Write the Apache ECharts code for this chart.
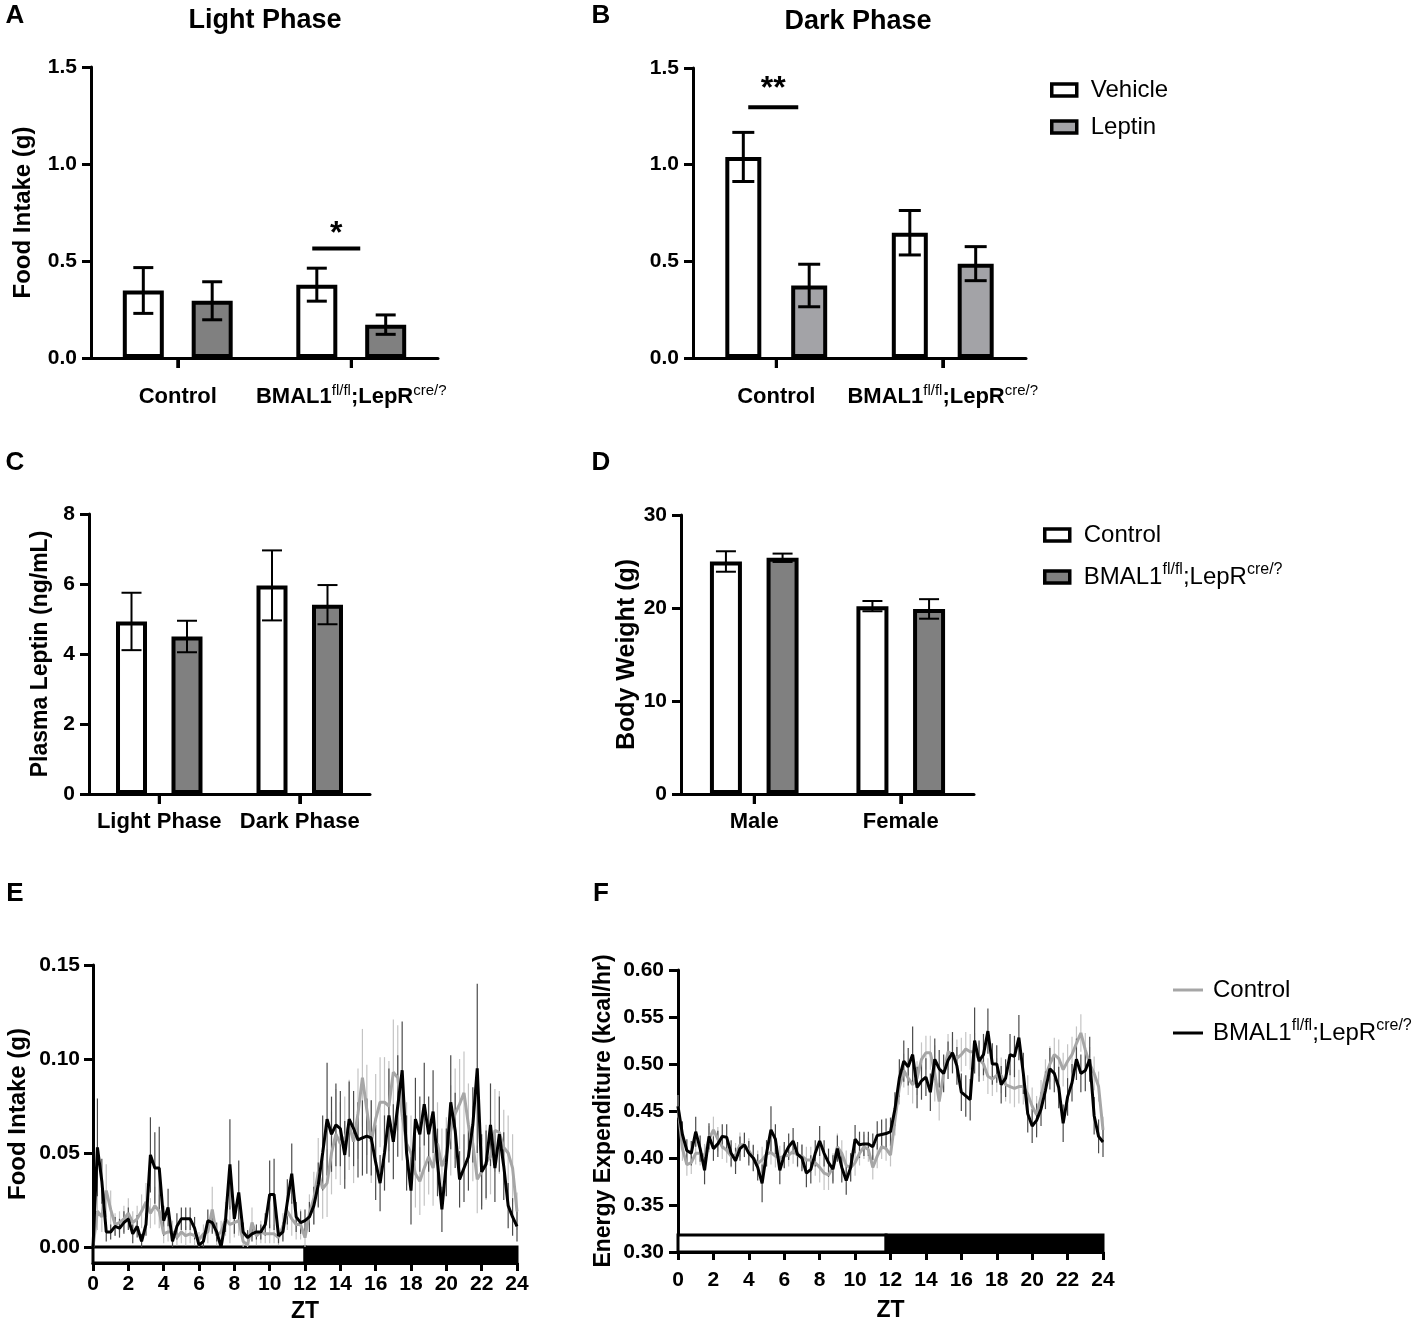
<!DOCTYPE html>
<html>
<head>
<meta charset="utf-8">
<script src="https://cdn.jsdelivr.net/npm/echarts@6/dist/echarts.min.js"></script>
<style>
html, body { margin: 0; padding: 0; background: #fff; }
#chart { width: 1417px; height: 1328px; }
</style>
</head>
<body>
<div id="chart"></div>
<script>
// ---- data ----
const KO = 'BMAL1fl/fl;LepRcre/?';
const genotypes = ['Control', KO];
const phases = ['Light Phase', 'Dark Phase'];
const sexes = ['Male', 'Female'];

// A: light phase food intake (g)
const lightVehicle = [0.348, 0.378];
const lightVehicleSem = [0.118, 0.085];
const lightLeptin = [0.295, 0.172];
const lightLeptinSem = [0.098, 0.05];
const sigA = [[1, 0.565]];
const sigAText = ['*'];

// B: dark phase food intake (g)
const darkVehicle = [1.04, 0.648];
const darkVehicleSem = [0.127, 0.115];
const darkLeptin = [0.375, 0.488];
const darkLeptinSem = [0.11, 0.088];
const sigB = [[0, 1.297]];
const sigBText = ['**'];

// C: plasma leptin (ng/mL)
const leptinControl = [4.93, 5.96];
const leptinControlSem = [0.82, 1.0];
const leptinKO = [4.5, 5.41];
const leptinKOSem = [0.45, 0.56];

// D: body weight (g)
const weightControl = [25.0, 20.2];
const weightControlSem = [1.1, 0.55];
const weightKO = [25.4, 19.9];
const weightKOSem = [0.45, 1.05];

// E / F: 15 min bins over ZT 0-24
const zt = Array.from({ length: 97 }, (_, i) => i * 0.25);

const foodControl = [
  0, 0.019, 0.016, 0.03, 0.02, 0.012, 0.013, 0.015, 0.018, 0.013, 0.015, 0.019, 0.024, 0.018, 0.022, 0.019,
  0.007, 0.008, 0.008, 0.005, 0.008, 0.006, 0.007, 0.006, 0.004, 0.007, 0.008, 0.02, 0.006, 0.008, 0.015, 0.012,
  0.013, 0.014, 0.003, 0.001, 0.013, 0.006, 0.008, 0.007, 0.007, 0.007, 0.005, 0.011, 0.019, 0.015, 0.012, 0.012, 0.005,
  0.018, 0.026, 0.04, 0.031, 0.034, 0.05, 0.06, 0.055, 0.058, 0.065, 0.056, 0.071, 0.09, 0.073, 0.056, 0.068,
  0.077, 0.077, 0.075, 0.093, 0.09, 0.07, 0.055, 0.05, 0.039, 0.035, 0.042, 0.048, 0.042, 0.055, 0.043, 0.049,
  0.062, 0.071, 0.076, 0.082, 0.065, 0.055, 0.036, 0.04, 0.045, 0.048, 0.062, 0.061, 0.053, 0.05, 0.042, 0.019
];
const foodControlSem = [
  0, 0.01, 0.008, 0.014, 0.01, 0.006, 0.006, 0.007, 0.008, 0.006, 0.007, 0.009, 0.01, 0.008, 0.01, 0.009,
  0.005, 0.005, 0.006, 0.004, 0.006, 0.005, 0.005, 0.005, 0.004, 0.005, 0.006, 0.012, 0.005, 0.006, 0.009, 0.01,
  0.008, 0.008, 0.003, 0.002, 0.008, 0.005, 0.006, 0.005, 0.005, 0.005, 0.004, 0.007, 0.01, 0.009, 0.008, 0.008, 0.005,
  0.01, 0.014, 0.018, 0.016, 0.018, 0.022, 0.024, 0.022, 0.022, 0.024, 0.022, 0.024, 0.026, 0.024, 0.022, 0.024,
  0.024, 0.024, 0.024, 0.028, 0.028, 0.024, 0.022, 0.02, 0.018, 0.018, 0.02, 0.02, 0.02, 0.022, 0.02, 0.02,
  0.024, 0.024, 0.024, 0.022, 0.022, 0.02, 0.018, 0.018, 0.02, 0.02, 0.022, 0.022, 0.02, 0.02, 0.018, 0.01
];
const foodKO = [
  0, 0.053, 0.035, 0.008, 0.008, 0.011, 0.01, 0.013, 0.015, 0.007, 0.011, 0.003, 0.012, 0.049, 0.042, 0.042,
  0.014, 0.021, 0.003, 0.011, 0.015, 0.015, 0.015, 0.01, 0.001, 0.003, 0.014, 0.013, 0.008, 0, 0.014, 0.044,
  0.015, 0.029, 0.008, 0.005, 0.007, 0.008, 0.008, 0.012, 0.028, 0.028, 0.006, 0.008, 0.024, 0.039, 0.016, 0.013, 0.014,
  0.016, 0.022, 0.033, 0.05, 0.068, 0.06, 0.065, 0.063, 0.049, 0.068, 0.063, 0.057, 0.058, 0.059, 0.058, 0.045,
  0.034, 0.05, 0.07, 0.056, 0.075, 0.094, 0.05, 0.03, 0.068, 0.06, 0.076, 0.06, 0.072, 0.045, 0.02, 0.045,
  0.077, 0.062, 0.036, 0.042, 0.048, 0.065, 0.095, 0.04, 0.044, 0.065, 0.042, 0.06, 0.043, 0.022, 0.016, 0.011
];
const foodKOSem = [
  0, 0.026, 0.012, 0.005, 0.004, 0.005, 0.005, 0.006, 0.006, 0.005, 0.006, 0.004, 0.006, 0.02, 0.019, 0.022,
  0.008, 0.01, 0.003, 0.007, 0.006, 0.006, 0.006, 0.006, 0.001, 0.003, 0.006, 0.006, 0.005, 0.001, 0.006, 0.024,
  0.008, 0.017, 0.005, 0.004, 0.004, 0.004, 0.004, 0.006, 0.018, 0.019, 0.004, 0.005, 0.012, 0.016, 0.008, 0.006, 0.006,
  0.008, 0.01, 0.012, 0.02, 0.03, 0.02, 0.022, 0.02, 0.018, 0.02, 0.02, 0.02, 0.02, 0.02, 0.02, 0.02,
  0.015, 0.02, 0.025, 0.02, 0.027, 0.026, 0.02, 0.018, 0.022, 0.02, 0.022, 0.02, 0.022, 0.018, 0.012, 0.018,
  0.025, 0.02, 0.015, 0.018, 0.018, 0.02, 0.045, 0.02, 0.018, 0.022, 0.018, 0.02, 0.018, 0.012, 0.01, 0.008
];

const eeControl = [
  0.455, 0.41, 0.393, 0.395, 0.405, 0.405, 0.402, 0.42, 0.43, 0.42, 0.412, 0.408, 0.402, 0.403, 0.414, 0.414,
  0.408, 0.4, 0.394, 0.398, 0.404, 0.406, 0.402, 0.4, 0.402, 0.403, 0.407, 0.403, 0.402, 0.398, 0.398, 0.395,
  0.39, 0.384, 0.382, 0.39, 0.412, 0.405, 0.392, 0.39, 0.395, 0.405, 0.412, 0.409, 0.39, 0.402, 0.412, 0.41, 0.403,
  0.44, 0.475, 0.493, 0.485, 0.478, 0.485, 0.505, 0.512, 0.512, 0.49, 0.46, 0.49, 0.513, 0.51, 0.506, 0.51,
  0.516, 0.513, 0.513, 0.505, 0.5, 0.487, 0.484, 0.488, 0.488, 0.478, 0.476, 0.474, 0.476, 0.476, 0.468, 0.455,
  0.446, 0.465, 0.487, 0.5, 0.51, 0.506, 0.494, 0.503, 0.51, 0.522, 0.533, 0.515, 0.5, 0.49, 0.476, 0.43
];
const eeControlSem = [
  0.012, 0.013, 0.012, 0.012, 0.012, 0.013, 0.013, 0.014, 0.014, 0.013, 0.013, 0.013, 0.012, 0.013, 0.013, 0.012,
  0.013, 0.013, 0.014, 0.014, 0.013, 0.013, 0.012, 0.013, 0.012, 0.012, 0.013, 0.013, 0.013, 0.014, 0.014, 0.014,
  0.016, 0.018, 0.016, 0.015, 0.014, 0.014, 0.016, 0.015, 0.014, 0.013, 0.013, 0.013, 0.013, 0.013, 0.013, 0.013, 0.012,
  0.016, 0.018, 0.018, 0.018, 0.02, 0.018, 0.018, 0.018, 0.018, 0.03, 0.02, 0.018, 0.019, 0.018, 0.02, 0.018,
  0.018, 0.019, 0.02, 0.018, 0.018, 0.019, 0.018, 0.018, 0.019, 0.018, 0.018, 0.02, 0.018, 0.019, 0.02, 0.02,
  0.02, 0.018, 0.018, 0.019, 0.018, 0.02, 0.018, 0.018, 0.019, 0.018, 0.02, 0.018, 0.018, 0.018, 0.016, 0.014
];
const eeKO = [
  0.455, 0.425, 0.408, 0.405, 0.428, 0.41, 0.387, 0.423, 0.41, 0.415, 0.423, 0.422, 0.405, 0.397, 0.41, 0.414,
  0.405, 0.4, 0.39, 0.373, 0.405, 0.43, 0.42, 0.387, 0.403, 0.412, 0.418, 0.404, 0.4, 0.384, 0.388, 0.405,
  0.418, 0.405, 0.395, 0.388, 0.41, 0.39, 0.376, 0.39, 0.42, 0.414, 0.415, 0.415, 0.412, 0.424, 0.425, 0.426, 0.428,
  0.452, 0.485, 0.503, 0.497, 0.51, 0.475, 0.482, 0.486, 0.47, 0.505, 0.495, 0.49, 0.504, 0.512, 0.498, 0.47,
  0.466, 0.462, 0.525, 0.503, 0.51, 0.535, 0.5, 0.5, 0.478, 0.485, 0.51, 0.508, 0.528, 0.49, 0.447, 0.434,
  0.44, 0.452, 0.472, 0.495, 0.49, 0.475, 0.437, 0.465, 0.48, 0.505, 0.49, 0.493, 0.505, 0.445, 0.423, 0.417
];
const eeKOSem = [
  0.012, 0.014, 0.012, 0.013, 0.016, 0.014, 0.015, 0.014, 0.013, 0.014, 0.013, 0.014, 0.014, 0.014, 0.013, 0.013,
  0.013, 0.014, 0.014, 0.02, 0.014, 0.025, 0.016, 0.015, 0.014, 0.014, 0.014, 0.013, 0.014, 0.015, 0.015, 0.014,
  0.016, 0.014, 0.015, 0.015, 0.014, 0.016, 0.015, 0.015, 0.015, 0.014, 0.013, 0.013, 0.014, 0.015, 0.016, 0.016, 0.015,
  0.018, 0.02, 0.022, 0.02, 0.03, 0.022, 0.02, 0.02, 0.02, 0.022, 0.02, 0.02, 0.02, 0.022, 0.02, 0.02,
  0.022, 0.022, 0.035, 0.022, 0.022, 0.024, 0.022, 0.02, 0.02, 0.02, 0.022, 0.022, 0.024, 0.022, 0.02, 0.018,
  0.018, 0.018, 0.02, 0.022, 0.02, 0.022, 0.02, 0.02, 0.02, 0.022, 0.02, 0.022, 0.024, 0.02, 0.018, 0.016
];

// light / dark periods shown under the traces [start ZT, end ZT]
const lightE = [0, 12], darkE = [12, 24];
const lightF = [0, 11.75], darkF = [11.75, 24];

// ---- styles ----
const FONT = '"Liberation Sans", Arial, Helvetica, sans-serif';
const GREY_A = '#808080';
const GREY_B = '#a3a3a7';
const LINE_GREY = '#a6a6a6';
const rich = {
  b: { fontFamily: FONT, fontWeight: 'bold', fontSize: 22, color: '#000', lineHeight: 28 },
  bs: { fontFamily: FONT, fontSize: 15, color: '#000', verticalAlign: 'top', lineHeight: 14 },
  r: { fontFamily: FONT, fontSize: 24, color: '#000', lineHeight: 30 },
  rs: { fontFamily: FONT, fontSize: 16, color: '#000', verticalAlign: 'top', lineHeight: 14 }
};
function fmt(name, main, sup) {
  if (name !== KO) return '{' + main + '|' + name + '}';
  return '{' + main + '|BMAL1}{' + sup + '|fl/fl}{' + main + '|;LepR}{' + sup + '|cre/?}';
}

const boldText = size => ({ fontFamily: FONT, fontWeight: 'bold', fontSize: size, color: '#000' });

function catAxis(grid, cats, margin) {
  return {
    type: 'category', gridIndex: grid, data: cats,
    axisLine: { show: true, lineStyle: { color: '#000', width: 3 } },
    axisTick: { show: true, interval: 0, alignWithLabel: true, length: 10, lineStyle: { color: '#000', width: 3 } },
    axisLabel: { interval: 0, margin: margin, formatter: v => fmt(v, 'b', 'bs'), rich: rich }
  };
}

function valAxis(grid, min, max, interval, digits, name, nameGap, nameSize) {
  return {
    type: 'value', gridIndex: grid, min: min, max: max, interval: interval,
    name: name, nameLocation: 'middle', nameGap: nameGap,
    nameTextStyle: boldText(nameSize || 23),
    axisLine: { show: true, onZero: false, lineStyle: { color: '#000', width: 3 } },
    axisTick: { show: true, length: 9, lineStyle: { color: '#000', width: 3 } },
    axisLabel: Object.assign({ margin: 14, formatter: v => v.toFixed(digits) }, boldText(21)),
    splitLine: { show: false }
  };
}

function ztAxis(grid, margin, nameGap) {
  return {
    type: 'value', gridIndex: grid, min: 0, max: 24, interval: 2,
    name: 'ZT', nameLocation: 'middle', nameGap: nameGap, nameTextStyle: boldText(23),
    axisLine: { show: true, onZero: false, lineStyle: { color: '#000', width: 3 } },
    axisTick: { show: true, length: 8, lineStyle: { color: '#000', width: 3 } },
    axisLabel: Object.assign({ margin: margin }, boldText(21)),
    splitLine: { show: false }
  };
}

function bar(name, grid, data, fill, width, gap) {
  return {
    name: name, type: 'bar', xAxisIndex: grid, yAxisIndex: grid, data: data,
    barWidth: width, barGap: gap,
    itemStyle: { color: fill, borderColor: '#000', borderWidth: 4 },
    z: 2, silent: true
  };
}

// tick under each category centre (drawn from the category axis scale)
function catTicks(grid, cats, baseline) {
  return {
    type: 'custom', xAxisIndex: grid, yAxisIndex: grid, z: 5, silent: true, clip: false,
    data: cats.map((c, i) => [i, baseline]), encode: { x: 0, y: 1 },
    renderItem: (params, api) => {
      const p = api.coord([api.value(0), api.value(1)]);
      return { type: 'line', shape: { x1: p[0], y1: p[1], x2: p[0], y2: p[1] + 10 }, style: { stroke: '#000', lineWidth: 3 } };
    }
  };
}

function barErr(grid, vals, sems, offset, cap, lw) {
  return {
    type: 'custom', xAxisIndex: grid, yAxisIndex: grid, z: 4, silent: true,
    data: vals.map((v, i) => [i, v, sems[i]]),
    encode: { x: 0, y: 1 },
    renderItem: (params, api) => {
      const c = api.value(0), v = api.value(1), e = api.value(2);
      const hi = api.coord([c, v + e]), lo = api.coord([c, v - e]);
      const x = hi[0] + offset;
      const style = { stroke: '#000', lineWidth: lw };
      return {
        type: 'group', children: [
          { type: 'line', shape: { x1: x, y1: hi[1], x2: x, y2: lo[1] }, style: style },
          { type: 'line', shape: { x1: x - cap / 2, y1: hi[1], x2: x + cap / 2, y2: hi[1] }, style: style },
          { type: 'line', shape: { x1: x - cap / 2, y1: lo[1], x2: x + cap / 2, y2: lo[1] }, style: style }
        ]
      };
    }
  };
}

function sig(grid, marks, texts, offset, half, lift) {
  return {
    type: 'custom', xAxisIndex: grid, yAxisIndex: grid, z: 4, silent: true,
    data: marks, encode: { x: 0, y: 1 },
    renderItem: (params, api) => {
      const p = api.coord([api.value(0), api.value(1)]);
      const x = p[0] + offset;
      return {
        type: 'group', children: [
          { type: 'line', shape: { x1: x - half, y1: p[1], x2: x + half, y2: p[1] }, style: { stroke: '#000', lineWidth: 4 } },
          { type: 'text', x: x, y: p[1] - lift, style: { text: texts[params.dataIndex], font: 'bold 32px ' + FONT, fill: '#000', align: 'center', verticalAlign: 'middle' } }
        ]
      };
    }
  };
}

function trace(name, grid, vals, color, z, periods) {
  const s = {
    name: name, type: 'line', xAxisIndex: grid, yAxisIndex: grid,
    data: zt.map((t, i) => [t, vals[i]]),
    showSymbol: false, lineStyle: { color: color, width: 3 }, itemStyle: { color: color },
    z: z, silent: true
  };
  if (periods) {
    s.markArea = {
      silent: true,
      data: [
        [{ coord: [periods.light[0], periods.y0], itemStyle: { color: '#fff', borderColor: '#000', borderWidth: 3 } },
         { coord: [periods.light[1], periods.y1] }],
        [{ coord: [periods.dark[0], periods.y0], itemStyle: { color: '#000', borderColor: '#000', borderWidth: 3 } },
         { coord: [periods.dark[1], periods.y1] }]
      ]
    };
  }
  return s;
}

function traceErr(grid, vals, sems, color, floor) {
  return {
    type: 'custom', xAxisIndex: grid, yAxisIndex: grid, z: 1, silent: true,
    data: zt.map((t, i) => [t, vals[i], sems[i]]),
    encode: { x: 0, y: 1 },
    renderItem: (params, api) => {
      const t = api.value(0), v = api.value(1), e = api.value(2);
      const hi = api.coord([t, v + e]), lo = api.coord([t, Math.max(v - e, floor)]);
      return { type: 'line', shape: { x1: hi[0], y1: hi[1], x2: lo[0], y2: lo[1] }, style: { stroke: color, lineWidth: 1.2 } };
    }
  };
}

const off = (w, g) => w * (1 + g) / 2;
const offA = off(41, 0.68), offB = off(36, 0.83), offC = off(31, 0.79), offD = off(32, 0.77);

const letters = [['A', 15, 16], ['B', 601, 16], ['C', 15, 463], ['D', 601, 463], ['E', 15, 894], ['F', 601, 894]];
const graphics = letters.map(l => ({
  type: 'text', x: l[1], y: l[2], silent: true,
  style: { text: l[0], font: 'bold 26px ' + FONT, fill: '#000', align: 'center', verticalAlign: 'middle' }
}));
graphics.push(
  { type: 'text', x: 265, y: 21, style: { text: 'Light Phase', font: 'bold 27px ' + FONT, fill: '#000', align: 'center', verticalAlign: 'middle' } },
  { type: 'text', x: 858, y: 22, style: { text: 'Dark Phase', font: 'bold 27px ' + FONT, fill: '#000', align: 'center', verticalAlign: 'middle' } }
);

const legendText = { fontFamily: FONT, fontSize: 24, color: '#000', padding: [0, 0, 0, 9], rich: rich };

const option = {
  backgroundColor: '#fff',
  animation: false,
  graphic: graphics,
  grid: [
    { left: 91, top: 67, width: 347, height: 291 },
    { left: 693, top: 68, width: 333, height: 290 },
    { left: 89, top: 514, width: 281, height: 280 },
    { left: 681, top: 515, width: 293, height: 279 },
    { left: 93, top: 965, width: 424, height: 298 },
    { left: 678, top: 970, width: 425, height: 282 }
  ],
  xAxis: [
    catAxis(0, genotypes, 25),
    catAxis(1, genotypes, 25),
    catAxis(2, phases, 14),
    catAxis(3, sexes, 14),
    ztAxis(4, 11, 37),
    ztAxis(5, 18, 47)
  ],
  yAxis: [
    valAxis(0, 0, 1.5, 0.5, 1, 'Food Intake (g)', 56, 24),
    valAxis(1, 0, 1.5, 0.5, 1, '', 40),
    valAxis(2, 0, 8, 2, 0, 'Plasma Leptin (ng/mL)', 37, 23),
    valAxis(3, 0, 30, 10, 0, 'Body Weight (g)', 38, 25),
    Object.assign(valAxis(4, -0.0085, 0.15, null, 2, 'Food Intake (g)', 63, 24), {
      axisTick: { show: true, length: 9, customValues: [0, 0.05, 0.1, 0.15], lineStyle: { color: '#000', width: 3 } },
      axisLabel: Object.assign({ margin: 13, customValues: [0, 0.05, 0.1, 0.15], formatter: v => v.toFixed(2) }, boldText(21))
    }),
    valAxis(5, 0.3, 0.6, 0.05, 2, 'Energy Expenditure (kcal/hr)', 63, 23)
  ],
  legend: [
    {
      orient: 'vertical', left: 1045, top: 73, itemWidth: 25, itemHeight: 12, itemGap: 13, icon: 'rect',
      selectedMode: false,
      itemStyle: { borderColor: '#000', borderWidth: 3.5 },
      data: [{ name: 'Vehicle', itemStyle: { color: '#fff' } }, { name: 'Leptin', itemStyle: { color: GREY_B } }],
      textStyle: legendText
    },
    {
      orient: 'vertical', left: 1038, top: 518, itemWidth: 25, itemHeight: 12, itemGap: 15, icon: 'rect',
      selectedMode: false,
      itemStyle: { borderColor: '#000', borderWidth: 3.5 },
      data: [{ name: 'Control', itemStyle: { color: '#fff' } }, { name: KO, itemStyle: { color: GREY_A } }],
      formatter: n => fmt(n, 'r', 'rs'),
      textStyle: legendText
    },
    {
      orient: 'vertical', left: 1168, top: 973, itemWidth: 30, itemHeight: 3, itemGap: 16, icon: 'rect',
      selectedMode: false,
      itemStyle: { borderWidth: 0 },
      data: [{ name: 'Control', itemStyle: { color: LINE_GREY, borderWidth: 0 } }, { name: KO, itemStyle: { color: '#000', borderWidth: 0 } }],
      formatter: n => fmt(n, 'r', 'rs'),
      textStyle: Object.assign({}, legendText, { padding: [0, 0, 0, 5] })
    }
  ],
  series: [
    bar('Vehicle', 0, lightVehicle, '#fff', 41, '68%'),
    bar('Leptin', 0, lightLeptin, GREY_A, 41, '68%'),
    barErr(0, lightVehicle, lightVehicleSem, -offA, 20, 3),
    barErr(0, lightLeptin, lightLeptinSem, offA, 20, 3),
    sig(0, sigA, sigAText, -15, 24, 14),
    catTicks(0, genotypes, 0),

    bar('Vehicle', 1, darkVehicle, '#fff', 36, '83%'),
    bar('Leptin', 1, darkLeptin, GREY_B, 36, '83%'),
    barErr(1, darkVehicle, darkVehicleSem, -offB, 22, 3),
    barErr(1, darkLeptin, darkLeptinSem, offB, 22, 3),
    sig(1, sigB, sigBText, -3, 25, 18),
    catTicks(1, genotypes, 0),

    bar('Control', 2, leptinControl, '#fff', 31, '79%'),
    bar(KO, 2, leptinKO, GREY_A, 31, '79%'),
    barErr(2, leptinControl, leptinControlSem, -offC, 20, 2),
    barErr(2, leptinKO, leptinKOSem, offC, 20, 2),
    catTicks(2, phases, 0),

    bar('Control', 3, weightControl, '#fff', 32, '77%'),
    bar(KO, 3, weightKO, GREY_A, 32, '77%'),
    barErr(3, weightControl, weightControlSem, -offD, 20, 2),
    barErr(3, weightKO, weightKOSem, offD, 20, 2),
    catTicks(3, sexes, 0),

    trace('Control', 4, foodControl, LINE_GREY, 2, { light: lightE, dark: darkE, y0: -0.0085, y1: 0 }),
    trace(KO, 4, foodKO, '#000', 3),
    traceErr(4, foodControl, foodControlSem, '#c4c4c4', 0),
    traceErr(4, foodKO, foodKOSem, '#4a4a4a', 0),

    trace('Control', 5, eeControl, LINE_GREY, 2, { light: lightF, dark: darkF, y0: 0.3, y1: 0.318 }),
    trace(KO, 5, eeKO, '#000', 3),
    traceErr(5, eeControl, eeControlSem, '#c4c4c4', 0.3),
    traceErr(5, eeKO, eeKOSem, '#4a4a4a', 0.3)
  ]
};

const chart = echarts.init(document.getElementById('chart'));
chart.setOption(option);
</script>
</body>
</html>
